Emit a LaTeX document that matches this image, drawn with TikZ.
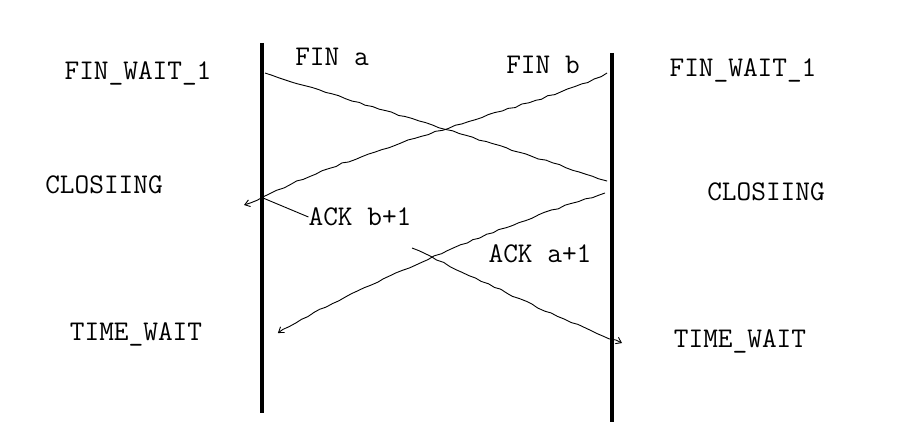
\documentclass[tikz,border=0pt]{standalone}
\usetikzlibrary{arrows.meta,decorations.pathmorphing}

\begin{document}
\begin{tikzpicture}[x=1pt,y=-1pt,>={Straight Barb[length=5pt,width=7pt]},
    life/.style={line width=3.5pt},
    msg/.style={line width=0.9pt,decorate,decoration={random steps,segment length=7pt,amplitude=0.8pt}},
    lbl/.style={font=\ttfamily\fontsize{28.5}{32}\selectfont,inner sep=0pt}]
    \pgfmathsetseed{11}
    \useasboundingbox (0,0) rectangle (918,438);
    % lifelines
    \coordinate (Ltop) at (262,43);
    \coordinate (Lbot) at (262,413);
    \coordinate (Rtop) at (612,53);
    \coordinate (Rbot) at (612,422);
    \draw[life] (Ltop) -- (Lbot);
    \draw[life] (Rtop) -- (Rbot);
    % states
    \node[lbl] (lfw) at (138,73) {FIN\_WAIT\_1};
    \node[lbl] (lcl) at (104,185) {CLOSIING};
    \node[lbl] (ltw) at (136,334) {TIME\_WAIT};
    \node[lbl] (rfw) at (743,70) {FIN\_WAIT\_1};
    \node[lbl] (rcl) at (766,192) {CLOSIING};
    \node[lbl] (rtw) at (740,341) {TIME\_WAIT};
    % segment labels
    \node[lbl] (fina) at (332,57) {FIN a};
    \node[lbl] (finb) at (543,65) {FIN b};
    \node[lbl] (ackb) at (360,217) {ACK b+1};
    \node[lbl] (acka) at (540,254) {ACK a+1};
    % message ends
    \coordinate (finA1) at (265,73);
    \coordinate (finA2) at (607,181);
    \coordinate (finB1) at (607,73);
    \coordinate (finB2) at (244,205);
    \coordinate (ackB1) at (263,198);
    \coordinate (ackB2) at (412,248);
    \coordinate (ackB3) at (622,343);
    \coordinate (ackA1) at (605,193);
    \coordinate (ackA2) at (278,333);
    \draw[msg] (finA1) .. controls (340,98) and (480,138) .. (finA2);
    \draw[msg,->] (finB1) .. controls (560,100) and (380,140) .. (263,197) -- (finB2);
    \draw[line width=0.9pt] (ackB1) -- (ackb.west);
    \draw[msg,->] (ackB2) .. controls (470,275) and (560,320) .. (ackB3);
    \draw[msg,->] (ackA1) .. controls (500,225) and (360,285) .. (ackA2);
\end{tikzpicture}
\end{document}
